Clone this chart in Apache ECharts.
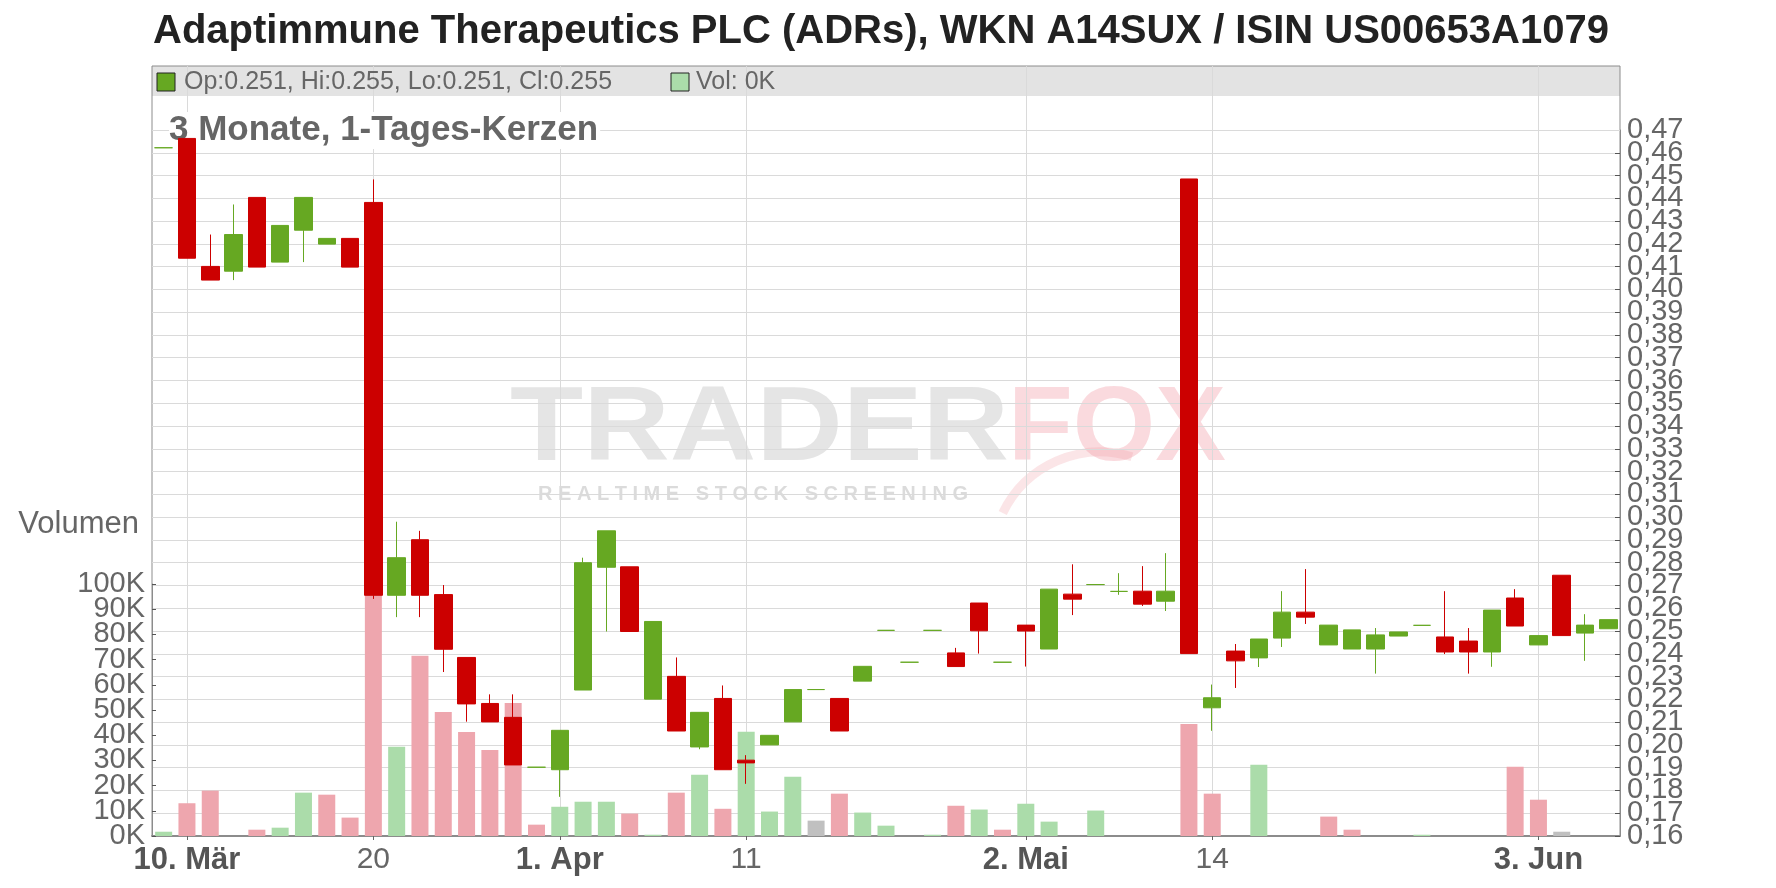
<!DOCTYPE html>
<html>
<head>
<meta charset="utf-8">
<script src="https://cdn.jsdelivr.net/npm/echarts@6/dist/echarts.min.js"></script>
<style>
html,body{margin:0;padding:0;background:#fff;}
#chart{width:1776px;height:888px;}
</style>
</head>
<body>
<div id="chart"></div>
<script>
// ---------------- data ----------------
const titleText = 'Adaptimmune Therapeutics PLC (ADRs), WKN A14SUX / ISIN US00653A1079';
const subtitleText = '3 Monate, 1-Tages-Kerzen';
const legendOHLC = 'Op:0.251, Hi:0.255, Lo:0.251, Cl:0.255';
const legendVol = 'Vol: 0K';
const volumeName = 'Volumen';

const dates = [
  '2025-03-07','2025-03-10','2025-03-11','2025-03-12','2025-03-13','2025-03-14',
  '2025-03-17','2025-03-18','2025-03-19','2025-03-20','2025-03-21',
  '2025-03-24','2025-03-25','2025-03-26','2025-03-27','2025-03-28',
  '2025-03-31','2025-04-01','2025-04-02','2025-04-03','2025-04-04',
  '2025-04-07','2025-04-08','2025-04-09','2025-04-10','2025-04-11',
  '2025-04-14','2025-04-15','2025-04-16','2025-04-17',
  '2025-04-22','2025-04-23','2025-04-24','2025-04-25',
  '2025-04-28','2025-04-29','2025-04-30','2025-05-02',
  '2025-05-05','2025-05-06','2025-05-07','2025-05-08','2025-05-09',
  '2025-05-12','2025-05-13','2025-05-14','2025-05-15','2025-05-16',
  '2025-05-19','2025-05-20','2025-05-21','2025-05-22','2025-05-23',
  '2025-05-26','2025-05-27','2025-05-28','2025-05-29','2025-05-30',
  '2025-06-02','2025-06-03','2025-06-04','2025-06-05','2025-06-06'
];

const opens = [
  0.4622,0.4663,0.4101,0.4080,0.4404,0.4120,0.4260,0.4199,0.4224,0.4382,
  0.2657,0.2901,0.2660,0.2384,0.2182,0.2121,0.1902,0.1891,0.2241,0.2780,
  0.2782,0.2201,0.2301,0.1991,0.2204,0.1933,0.2000,0.2101,0.2243,0.2204,
  0.2280,0.2503,0.2363,0.2503,0.2404,0.2623,0.2363,0.2526,0.2421,0.2662,
  0.2704,0.2674,0.2675,0.2631,0.4485,0.2163,0.2412,0.2382,0.2469,0.2583,
  0.2439,0.2421,0.2421,0.2478,0.2525,0.2474,0.2456,0.2408,0.2645,0.2439,
  0.2745,0.2491,0.2510
];
const closes = [
  0.4622,0.4137,0.4041,0.4241,0.4098,0.4281,0.4404,0.4224,0.4098,0.2657,
  0.2822,0.2657,0.2420,0.2180,0.2101,0.1912,0.1902,0.2064,0.2800,0.2940,
  0.2498,0.2542,0.2061,0.2143,0.1891,0.1921,0.2042,0.2243,0.2243,0.2061,
  0.2345,0.2503,0.2363,0.2503,0.2344,0.2501,0.2363,0.2500,0.2684,0.2640,
  0.2704,0.2674,0.2618,0.2675,0.2401,0.2207,0.2369,0.2465,0.2583,0.2561,
  0.2526,0.2505,0.2483,0.2496,0.2525,0.2408,0.2408,0.2592,0.2522,0.2480,
  0.2480,0.2526,0.2550
];
const lows = [
  0.4622,0.4137,0.4041,0.4041,0.4098,0.4120,0.4120,0.4199,0.4098,0.2641,
  0.2561,0.2561,0.2320,0.2102,0.2101,0.1912,0.1902,0.1772,0.2241,0.2498,
  0.2498,0.2201,0.2061,0.1981,0.1891,0.1829,0.2000,0.2101,0.2243,0.2061,
  0.2280,0.2503,0.2363,0.2503,0.2344,0.2401,0.2363,0.2344,0.2421,0.2570,
  0.2704,0.2659,0.2610,0.2588,0.2401,0.2062,0.2250,0.2342,0.2430,0.2531,
  0.2439,0.2421,0.2313,0.2478,0.2525,0.2399,0.2313,0.2343,0.2522,0.2439,
  0.2480,0.2369,0.2510
];
const highs = [
  0.4622,0.4663,0.4241,0.4373,0.4404,0.4281,0.4404,0.4224,0.4224,0.4483,
  0.2980,0.2940,0.2702,0.2384,0.2222,0.2222,0.1902,0.2064,0.2822,0.2940,
  0.2782,0.2542,0.2384,0.2143,0.2261,0.1955,0.2042,0.2243,0.2243,0.2204,
  0.2345,0.2503,0.2363,0.2503,0.2426,0.2623,0.2363,0.2526,0.2684,0.2793,
  0.2704,0.2754,0.2785,0.2842,0.4485,0.2265,0.2443,0.2465,0.2675,0.2772,
  0.2526,0.2505,0.2513,0.2496,0.2525,0.2675,0.2513,0.2592,0.2684,0.2480,
  0.2745,0.2574,0.2550
];
const volumes = [
  1700,13000,18000,0,2500,3300,17200,16400,7300,120000,
  35400,71500,49200,41300,34100,52800,4500,11600,13600,13600,
  8900,500,17200,24300,10800,41400,9700,23500,6100,16800,
  9300,4100,0,500,12000,10500,2500,12800,5700,0,
  10100,0,0,0,44400,16800,0,28300,0,0,
  7700,2500,0,0,500,0,0,0,27500,14400,
  1700,0,0
];

const tickDates = ['2025-03-10','2025-03-20','2025-04-01','2025-04-11','2025-05-02','2025-05-14','2025-06-03'];
const tickTexts = ['10. Mär','20','1. Apr','11','2. Mai','14','3. Jun'];
const tickBold  = [true,false,true,false,true,false,true];

const priceMin = 0.16, priceMax = 0.47, priceStep = 0.01;
const volMin = 0, volMax = 100000, volStep = 10000;

// ---------------- style ----------------
const FONT = '"Liberation Sans", Arial, sans-serif';
const GREEN = '#66a822', RED = '#cc0000';
const VGREEN = '#abdcaa', VRED = '#eea6ae', VGRAY = '#c0c0c0';
const GRIDC = '#dadada', FRAMEC = '#8c8c8c', TXT = '#666666';
const L = 152, R = 156, B = 52;

const candleData = dates.map((d, i) => {
  const item = { value: [opens[i], closes[i], lows[i], highs[i]] };
  if (opens[i] === closes[i]) {
    item.itemStyle = { color: GREEN, color0: GREEN, borderColor: GREEN, borderColor0: GREEN };
  }
  return item;
});
const volData = volumes.map((v, i) => {
  let c = VGREEN;
  if (i > 0) {
    if (closes[i] < closes[i - 1]) c = VRED;
    else if (closes[i] === closes[i - 1]) c = VGRAY;
  }
  return { value: v, itemStyle: { color: c } };
});

const tickSet = new Set(tickDates.map(d => dates.indexOf(d)));
const isTick = (idx) => tickSet.has(idx);

const hiddenCat = (gi) => ({
  type: 'category', gridIndex: gi, data: dates, boundaryGap: true,
  axisLine: { show: false }, axisTick: { show: false },
  axisLabel: { show: false }, splitLine: { show: false }
});

// labels are split over two axes with identical scales (even / odd steps),
// so that the library's min/max-label overlap rule never hides a label
const priceFmt = (parity) => (v) => {
  const k = Math.round((v - priceMin) / priceStep);
  return (k % 2 === parity) ? v.toFixed(2).replace('.', ',') : '';
};
const volFmt = (parity) => (v) => {
  const k = Math.round((v - volMin) / volStep);
  return (k % 2 === parity) ? Math.round(v / 1000) + 'K' : '';
};
const labelBase = { margin: 7, fontFamily: FONT, fontSize: 29, color: TXT, hideOverlap: false };

const option = {
  animation: false,
  backgroundColor: '#ffffff',
  textStyle: { fontFamily: FONT },
  title: [
    { text: titleText, left: 153, top: 12, padding: 0,
      textStyle: { fontFamily: FONT, fontSize: 40, fontWeight: 'bold', color: '#222222' } },
    { text: subtitleText, left: 169, top: 112, padding: [0, 2, 0, 0], backgroundColor: '#ffffff', z: 1,
      textStyle: { fontFamily: FONT, fontSize: 35, fontWeight: 'bold', color: '#666666', lineHeight: 37 } }
  ],
  grid: [
    { left: L, right: R, top: 130, bottom: B },
    { left: L, right: R, top: 584, bottom: B },
    { left: L, right: R, top: 66, bottom: B, show: true, borderColor: FRAMEC, borderWidth: 1, backgroundColor: 'transparent' }
  ],
  xAxis: [
    hiddenCat(0),
    hiddenCat(1),
    {
      type: 'category', gridIndex: 2, data: dates, boundaryGap: true,
      axisLine: { show: true, lineStyle: { color: FRAMEC, width: 2 } },
      axisTick: { show: true, alignWithLabel: true, interval: isTick, length: 4, lineStyle: { color: '#666' } },
      axisLabel: {
        show: true, interval: isTick, margin: 9, hideOverlap: false,
        formatter: (val) => {
          const k = tickDates.indexOf(val);
          if (k < 0) return '';
          return (tickBold[k] ? '{b|' : '{n|') + tickTexts[k] + '}';
        },
        rich: {
          b: { fontFamily: FONT, fontSize: 31, fontWeight: 'bold', color: '#555555' },
          n: { fontFamily: FONT, fontSize: 30, color: TXT }
        }
      },
      splitLine: { show: true, interval: isTick, alignWithLabel: true, lineStyle: { color: GRIDC, width: 1 } }
    }
  ],
  yAxis: [
    { // 0: price, even steps + lines/ticks
      type: 'value', gridIndex: 0, position: 'right', min: priceMin, max: priceMax, interval: priceStep,
      axisLine: { show: true, lineStyle: { color: FRAMEC } },
      axisTick: { show: true, inside: true, length: 5, lineStyle: { color: '#555' } },
      axisLabel: Object.assign({}, labelBase, { showMinLabel: true, showMaxLabel: false, formatter: priceFmt(0) }),
      splitLine: { show: true, lineStyle: { color: GRIDC, width: 1 } }
    },
    { // 1: volume, even steps + line/ticks
      type: 'value', gridIndex: 1, position: 'left', min: volMin, max: volMax, interval: volStep,
      name: volumeName, nameLocation: 'end', nameGap: 60,
      nameTextStyle: { fontFamily: FONT, fontSize: 31, color: TXT, align: 'right', verticalAlign: 'middle', padding: [0, 13, 0, 0] },
      axisLine: { show: true, lineStyle: { color: FRAMEC } },
      axisTick: { show: true, inside: true, length: 4, lineStyle: { color: '#555' } },
      axisLabel: Object.assign({}, labelBase, { showMinLabel: true, showMaxLabel: true, formatter: volFmt(0) }),
      splitLine: { show: false }
    },
    { type: 'value', gridIndex: 2, show: false, min: 0, max: 1 },
    { // 3: price, odd steps (labels only)
      type: 'value', gridIndex: 0, position: 'right', min: priceMin, max: priceMax, interval: priceStep,
      axisLine: { show: false }, axisTick: { show: false }, splitLine: { show: false },
      axisLabel: Object.assign({}, labelBase, { showMinLabel: false, showMaxLabel: true, formatter: priceFmt(1) })
    },
    { // 4: volume, odd steps (labels only)
      type: 'value', gridIndex: 1, position: 'left', min: volMin, max: volMax, interval: volStep,
      axisLine: { show: false }, axisTick: { show: false }, splitLine: { show: false },
      axisLabel: Object.assign({}, labelBase, { showMinLabel: false, showMaxLabel: false, formatter: volFmt(1) })
    }
  ],
  graphic: [
    { type: 'rect', z: -10, silent: true,
      shape: { x: L, y: 66, width: 1776 - L - R, height: 30 },
      style: { fill: '#e3e3e3' } },
    { type: 'text', z: -5, silent: true, x: 510, y: 431, scaleX: 1.13,
      style: { text: 'TRADER', font: 'bold 106px ' + FONT, fill: 'rgba(190,190,190,0.40)', verticalAlign: 'middle' } },
    { type: 'text', z: -5, silent: true, x: 1008, y: 431,
      style: { text: 'FOX', font: 'bold 106px ' + FONT, fill: 'rgba(240,150,160,0.35)', verticalAlign: 'middle' } },
    { type: 'arc', z: -5, silent: true,
      shape: { cx: 1100, cy: 560, r: 108, startAngle: Math.PI + 0.45, endAngle: 1.5 * Math.PI + 0.3, clockwise: true },
      style: { stroke: 'rgba(240,150,160,0.25)', lineWidth: 9, fill: null } },
    { type: 'text', z: -5, silent: true, x: 538, y: 494,
      style: { text: 'R E A L T I M E   S T O C K   S C R E E N I N G', font: 'bold 20px ' + FONT, fill: 'rgba(175,175,175,0.45)', verticalAlign: 'middle' } },
    { type: 'rect', z: 10, silent: true,
      shape: { x: 157, y: 73, width: 18, height: 18 },
      style: { fill: GREEN, stroke: '#222', lineWidth: 1 } },
    { type: 'text', z: 10, silent: true, x: 184, y: 82,
      style: { text: legendOHLC, font: '25px ' + FONT, fill: TXT, verticalAlign: 'middle' } },
    { type: 'rect', z: 10, silent: true,
      shape: { x: 671, y: 73, width: 18, height: 18 },
      style: { fill: VGREEN, stroke: '#222', lineWidth: 1 } },
    { type: 'text', z: 10, silent: true, x: 696, y: 82,
      style: { text: legendVol, font: '25px ' + FONT, fill: TXT, verticalAlign: 'middle' } }
  ],
  series: [
    {
      type: 'bar', name: 'Volumen', xAxisIndex: 1, yAxisIndex: 1,
      data: volData, barWidth: 17, clip: false, z: 1, silent: true
    },
    {
      type: 'candlestick', name: 'Kurs', xAxisIndex: 0, yAxisIndex: 0,
      data: candleData, barWidth: 18, z: 3, silent: true,
      itemStyle: { color: GREEN, color0: RED, borderColor: GREEN, borderColor0: RED, borderWidth: 1 }
    }
  ]
};

const chart = echarts.init(document.getElementById('chart'), null, { renderer: 'canvas' });
chart.setOption(option);
</script>
</body>
</html>
